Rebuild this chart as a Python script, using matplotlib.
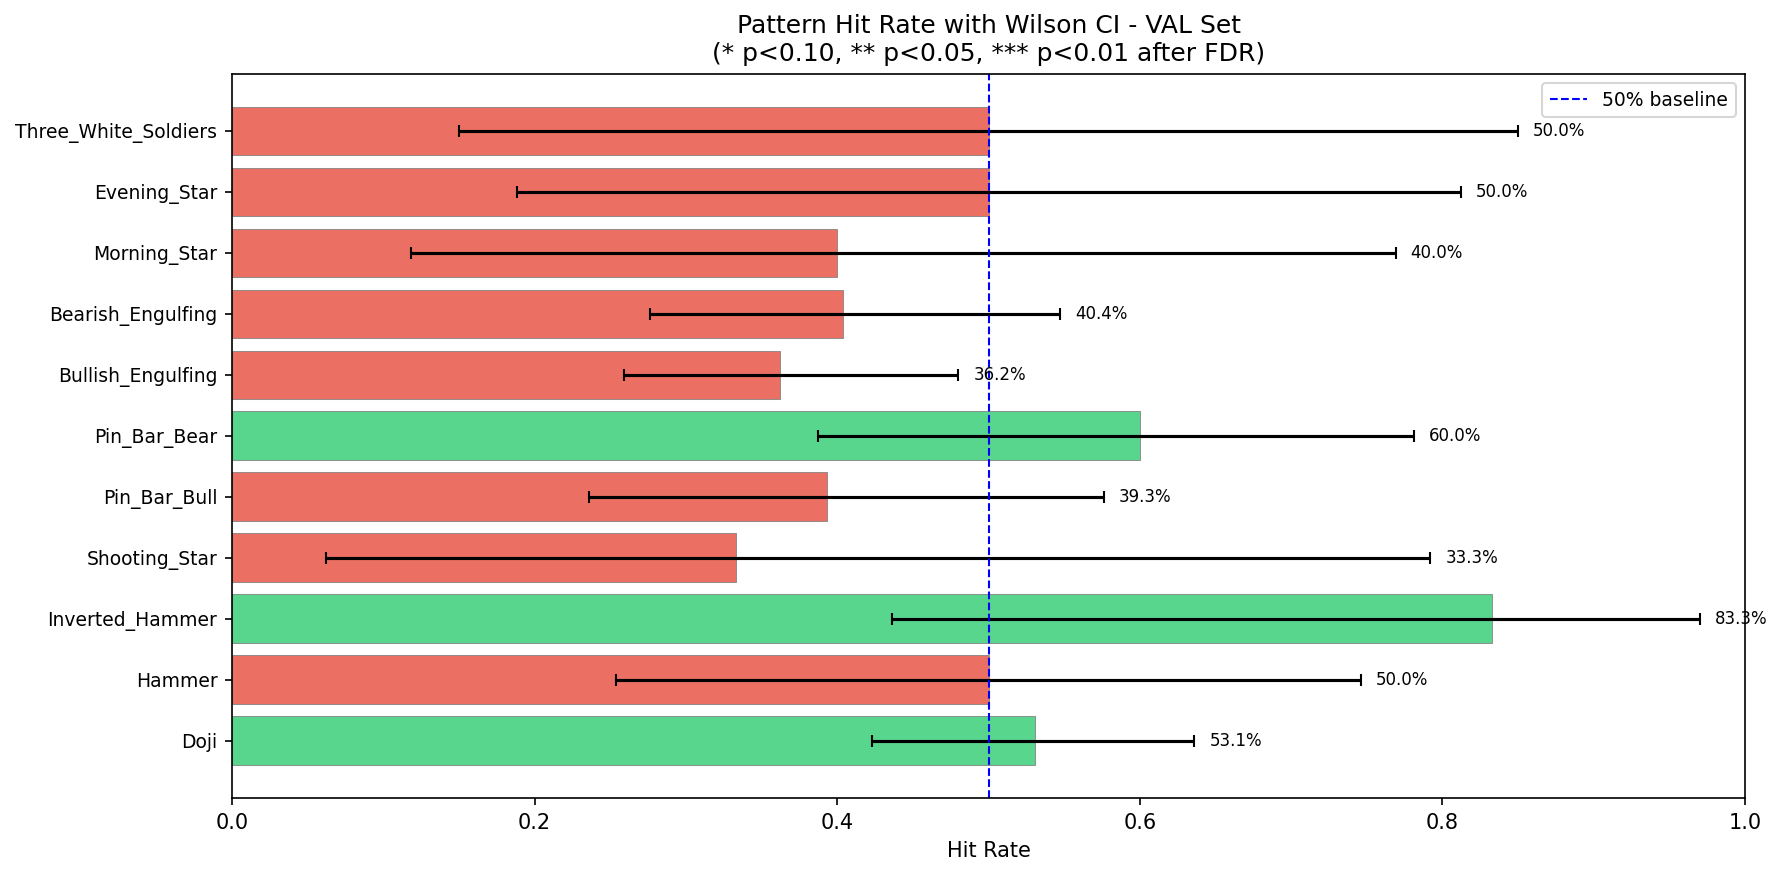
import matplotlib
matplotlib.use("Agg")
import matplotlib.pyplot as plt
import numpy as np

patterns = ["Doji", "Hammer", "Inverted_Hammer", "Shooting_Star", "Pin_Bar_Bull",
            "Pin_Bar_Bear", "Bullish_Engulfing", "Bearish_Engulfing", "Morning_Star",
            "Evening_Star", "Three_White_Soldiers"]
hit_rate = [0.531, 0.500, 0.833, 0.333, 0.393, 0.600, 0.362, 0.404, 0.400, 0.500, 0.500]
ci_low = [0.423, 0.254, 0.436, 0.062, 0.236, 0.387, 0.259, 0.276, 0.118, 0.188, 0.150]
ci_high = [0.636, 0.746, 0.970, 0.792, 0.576, 0.781, 0.480, 0.547, 0.769, 0.812, 0.850]

fig = plt.figure(figsize=(1781 / 150, 877 / 150), dpi=150)
ax = fig.add_axes([0.1303, 0.0900, 0.8495, 0.8260])

y = np.arange(len(patterns))
rates = np.array(hit_rate)
lo = np.array(ci_low)
hi = np.array(ci_high)
colors = ["#2ecc71" if r > 0.5 else "#e74c3c" for r in rates]

ax.barh(y, rates, height=0.8, color=colors, alpha=0.8, edgecolor="gray", linewidth=0.5)
ax.errorbar(rates, y, xerr=[rates - lo, hi - rates], fmt="none", ecolor="black",
            capsize=3, elinewidth=1.5, capthick=1)
for yi, r, h in zip(y, rates, hi):
    ax.text(h + 0.01, yi, f"{r:.1%}", va="center", ha="left", fontsize=8)

ax.axvline(0.5, color="blue", linestyle="--", linewidth=1, label="50% baseline")
ax.set_yticks(y)
ax.set_yticklabels(patterns, fontsize=9)
ax.set_xlim(0, 1)
ax.set_xlabel("Hit Rate")
ax.set_title("Pattern Hit Rate with Wilson CI - VAL Set\n(* p<0.10, ** p<0.05, *** p<0.01 after FDR)")
ax.legend(loc="upper right", fontsize=9)

fig.savefig("out.png", dpi=150)
